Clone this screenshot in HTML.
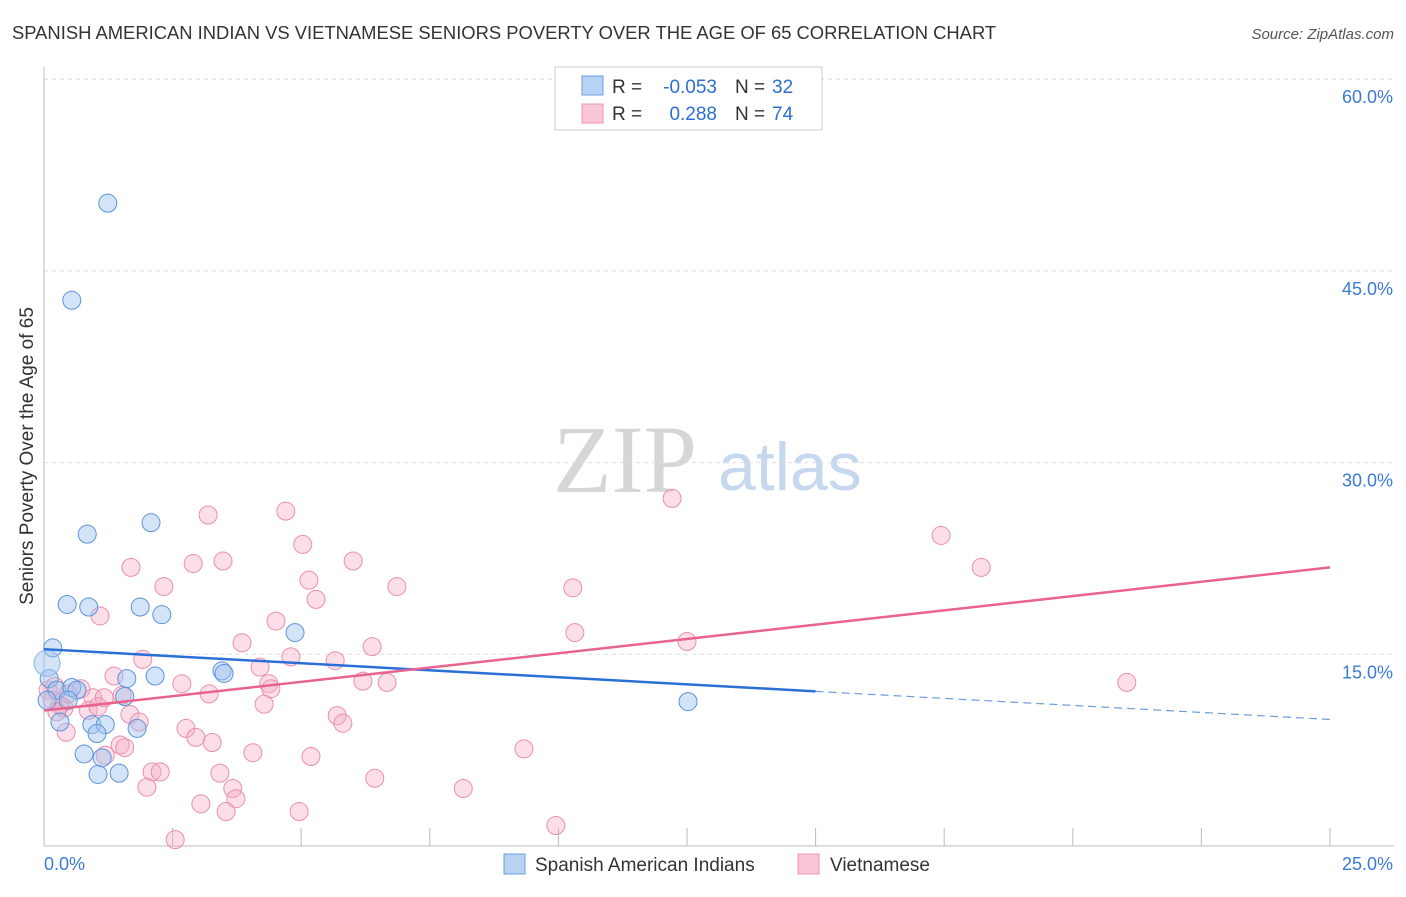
<!DOCTYPE html>
<html><head><meta charset="utf-8"><style>
body{margin:0;background:#fff;font-family:"Liberation Sans",sans-serif;}
</style></head><body>
<svg id="chart" width="1406" height="892" xmlns="http://www.w3.org/2000/svg" font-family="Liberation Sans, sans-serif">
<text x="12" y="39" font-size="18.4" fill="#333">SPANISH AMERICAN INDIAN VS VIETNAMESE SENIORS POVERTY OVER THE AGE OF 65 CORRELATION CHART</text>
<text x="1394" y="39" font-size="15" fill="#555" font-style="italic" text-anchor="end">Source: ZipAtlas.com</text>
<g><text x="553" y="492" font-size="96" style="font-family:'Liberation Serif',serif" fill="#d6d6d6">ZIP</text><text x="718" y="490" font-size="68" fill="#c5d8ee">atlas</text></g>
<g id="grid"></g><g id="axes"></g><g id="marks"></g>
<g>
<rect x="555" y="67" width="267" height="63" fill="#fff" stroke="#ccc"/>
<rect x="582" y="76" width="21" height="19" fill="#b8d2f4" stroke="#6b9ee0"/>
<rect x="582" y="104" width="21" height="19" fill="#f9c6d5" stroke="#ec94b0"/>
<text x="612" y="93" font-size="19" fill="#333">R =</text>
<text x="717" y="93" font-size="19" fill="#2d6fd1" text-anchor="end">-0.053</text>
<text x="735" y="93" font-size="19" fill="#333">N =</text>
<text x="772" y="93" font-size="19" fill="#2d6fd1">32</text>
<text x="612" y="120" font-size="19" fill="#333">R =</text>
<text x="717" y="120" font-size="19" fill="#2d6fd1" text-anchor="end">0.288</text>
<text x="735" y="120" font-size="19" fill="#333">N =</text>
<text x="772" y="120" font-size="19" fill="#2d6fd1">74</text>
</g>
<g>
<rect x="504" y="854" width="21" height="20" fill="#b8d2f4" stroke="#6b9ee0"/>
<text x="535" y="871" font-size="19" fill="#333">Spanish American Indians</text>
<rect x="798" y="854" width="21" height="20" fill="#f9c6d5" stroke="#ec94b0"/>
<text x="830" y="871" font-size="19" fill="#333">Vietnamese</text>
</g>
<text x="33" y="456" font-size="19" fill="#333" transform="rotate(-90 33 456)" text-anchor="middle">Seniors Poverty Over the Age of 65</text>
</svg>
<script>
const yTicks=[15,30,45,60];
const yTickLabels=["15.0%","30.0%","45.0%","60.0%"];
const xTicks=[0,2.5,5,7.5,10,12.5,15,17.5,20,22.5,25];
const blueX=[1.24,0.54,0.84,2.08,0.45,0.87,1.87,2.29,4.88,0.17,0.10,0.25,0.54,0.64,0.47,1.57,1.61,2.16,3.46,3.50,0.31,0.93,1.19,1.03,1.81,0.78,1.13,1.05,1.46,12.52,0.06];
const blueY=[50.3,42.7,24.4,25.3,18.9,18.7,18.7,18.1,16.7,15.5,13.1,12.2,12.4,12.2,11.4,11.7,13.1,13.3,13.7,13.5,9.7,9.5,9.5,8.8,9.2,7.2,6.9,5.6,5.7,11.3,11.4];
const pinkX=[2.55,3.19,4.70,12.21,17.44,18.22,1.69,2.33,2.90,3.48,5.03,5.15,6.01,6.86,10.28,5.29,1.09,4.51,3.85,10.32,12.50,4.80,5.66,6.38,4.20,1.92,1.36,2.68,4.37,4.41,3.21,6.20,6.67,21.05,0.08,0.21,0.72,0.95,1.17,1.52,0.86,0.39,0.47,1.67,1.85,0.43,4.28,5.70,5.81,2.76,2.95,3.27,1.48,1.57,1.19,4.06,5.19,9.33,2.10,2.26,3.42,2.00,3.67,3.73,3.05,3.54,4.96,6.43,8.15,9.95,1.05,0.31,0.16,0.25];
const pinkY=[0.5,25.9,26.2,27.2,24.3,21.8,21.8,20.3,22.1,22.3,23.6,20.8,22.3,20.3,20.2,19.3,18.0,17.6,15.9,16.7,16.0,14.8,14.5,15.6,14.0,14.6,13.3,12.7,12.7,12.3,11.9,12.9,12.8,12.8,12.2,12.5,12.3,11.6,11.6,11.8,10.6,10.8,11.9,10.3,9.7,8.9,11.1,10.2,9.6,9.2,8.5,8.1,7.9,7.7,7.1,7.3,7.0,7.6,5.8,5.8,5.7,4.6,4.5,3.7,3.3,2.7,2.7,5.3,4.5,1.6,10.9,11.0,11.4,10.5];
const blueTrend=[15.4,9.9];
const pinkTrend=[10.6,21.8];
const X=v=>44+v/25*1286, Y=v=>846-v/15*191.7;
const NS="http://www.w3.org/2000/svg";
function mk(p,t,a){const e=document.createElementNS(NS,t);for(const k in a)e.setAttribute(k,a[k]);p.appendChild(e);return e;}
const grid=document.getElementById('grid'),axes=document.getElementById('axes'),marks=document.getElementById('marks');
yTicks.forEach((t,i)=>{const l=mk(grid,'line',{x1:44,x2:1394,y1:Y(t),y2:Y(t),stroke:'#ddd','stroke-dasharray':'4 4'});


const tx=mk(grid,'text',{x:1393,y:Y(t)+24,'font-size':18,fill:'#3a7bd5','text-anchor':'end'});tx.textContent=yTickLabels[i];

});
const tl=mk(grid,'line',{x1:44,x2:1394,y1:79,y2:79,stroke:'#ddd','stroke-dasharray':'4 4'});


const ya=mk(axes,'line',{x1:44,x2:44,y1:67,y2:846,stroke:'#bbb'});


const xa=mk(axes,'line',{x1:44,x2:1394,y1:846,y2:846,stroke:'#bbb'});


xTicks.forEach(t=>{if(t===0)return;const l=mk(axes,'line',{x1:X(t),x2:X(t),y1:828,y2:846,stroke:'#bbb'});

});
const x0=mk(axes,'text',{x:44,y:870,'font-size':18,fill:'#3a7bd5'});x0.textContent='0.0%';


const x1=mk(axes,'text',{x:1393,y:870,'font-size':18,fill:'#3a7bd5','text-anchor':'end'});x1.textContent='25.0%';


pinkX.forEach((v,i)=>{const c=mk(marks,'circle',{cx:X(v),cy:Y(pinkY[i]),r:9,fill:'rgba(246,172,197,0.4)',stroke:'#eb8fae','stroke-width':1});

});
blueX.forEach((v,i)=>{const c=mk(marks,'circle',{cx:X(v),cy:Y(blueY[i]),r:9,fill:'rgba(160,196,240,0.45)',stroke:'#5b93dc','stroke-width':1});

});
const big=mk(marks,'circle',{cx:X(0.06),cy:Y(14.3),r:13,fill:'rgba(160,196,240,0.45)',stroke:'#8ab3e6'});


const bm=blueTrend[0]+(blueTrend[1]-blueTrend[0])*15/25;
const b1=mk(marks,'line',{x1:X(0),y1:Y(blueTrend[0]),x2:X(15),y2:Y(bm),stroke:'#2b6fd6','stroke-width':2.5});


const b2=mk(marks,'line',{x1:X(15),y1:Y(bm),x2:X(25),y2:Y(blueTrend[1]),stroke:'#6b9ee0','stroke-width':1.2,'stroke-dasharray':'8 5'});


const p1=mk(marks,'line',{x1:X(0),y1:Y(pinkTrend[0]),x2:X(25),y2:Y(pinkTrend[1]),stroke:'#e8638f','stroke-width':2.5});


</script>
</body></html>
